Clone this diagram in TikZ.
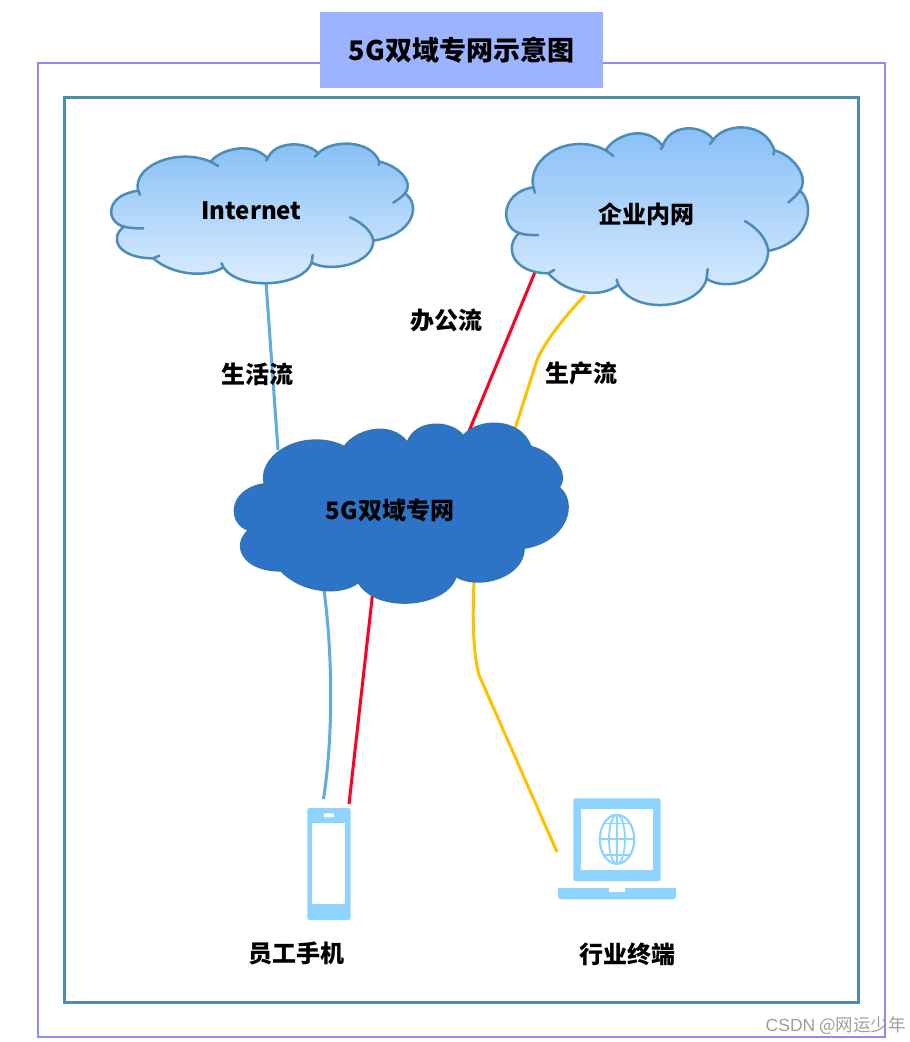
\documentclass[tikz,border=0pt]{standalone}
\usepackage{fontspec}
\setmainfont{Noto Sans CJK SC}
\newfontfamily\markfont{Liberation Sans}
\definecolor{outerframe}{HTML}{8C8CF4}
\definecolor{innerframe}{HTML}{4F8DB0}
\definecolor{titlefill}{HTML}{9CB4FF}
\definecolor{cloudline}{HTML}{4C8CB8}
\definecolor{cloudtop}{HTML}{85BEF6}
\definecolor{cloudbottom}{HTML}{E0EFFF}
\definecolor{netfill}{HTML}{2E74C6}
\definecolor{netline}{HTML}{3074B4}
\definecolor{iconblue}{HTML}{8DD5FF}
\definecolor{lifeflow}{HTML}{5DADE2}
\definecolor{officeflow}{HTML}{FF0020}
\definecolor{workflow}{HTML}{FFC000}
\newcommand{\cloudoutline}{(145,242) .. controls (130,190) and (200,140) .. (285,140)
  .. controls (320,140) and (345,148) .. (362,155)
  .. controls (390,118) and (485,92) .. (533,145)
  .. controls (555,92) and (650,92) .. (685,130)
  .. controls (720,90) and (840,85) .. (868,155)
  .. controls (920,165) and (975,215) .. (945,250)
  .. controls (995,285) and (970,375) .. (850,392)
  .. controls (850,460) and (725,490) .. (665,458)
  .. controls (640,530) and (450,545) .. (400,472)
  .. controls (350,505) and (245,495) .. (190,445)
  .. controls (85,445) and (55,385) .. (102,350)
  .. controls (45,335) and (45,255) .. (145,242) -- cycle}
\newcommand{\cloudfolds}{(145,242) -- (150,255) (362,155) -- (385,168) (533,145) -- (528,152)
  (685,130) -- (675,140) (868,155) -- (866,165) (945,250) .. controls (935,262) and (922,270) .. (910,278)
  (850,392) .. controls (845,360) and (810,335) .. (780,322) (665,458) -- (668,435)
  (400,472) -- (395,460) (190,445) -- (208,437) (102,350) .. controls (120,355) and (140,355) .. (160,355)}
\tikzset{
  textlabel/.style={font=\fontsize{24}{24}\selectfont\bfseries, text=black, inner sep=0pt},
  flowline/.style={line width=3pt, line join=round},
  lightcloud/.style={draw=cloudline, line width=2.5pt, top color=cloudtop, bottom color=cloudbottom},
  iconpart/.style={fill=iconblue, draw=none}
}
\begin{document}
\begin{tikzpicture}[x=1pt, y=-1pt]
	\useasboundingbox (0,0) rectangle (910,1042);
	\fill[white] (0,0) rectangle (910,1042);
	% 外框与内框
	\draw[outerframe, line width=1.6pt] (38,63) rectangle (885,1037);
	\draw[innerframe, line width=3pt] (64,97) rectangle (858,1002);
	% 标题
	\node[textlabel, font=\fontsize{27}{27}\selectfont\bfseries, fill=titlefill, minimum width=283pt, minimum height=76pt] (title) at (461.5,50) {5G双域专网示意图};
	
	% 连接点
	\coordinate (inetout) at (266,282);
	\coordinate (lifeup) at (278,450);
	\coordinate (corpred) at (535,272);
	\coordinate (officeup) at (467,436);
	\coordinate (corpyellow) at (585,295);
	\coordinate (workup) at (514,432);
	\coordinate (lifedown) at (324,590);
	\coordinate (phoneblue) at (323.5,799);
	\coordinate (officedown) at (373,590);
	\coordinate (phonered) at (349,804);
	\coordinate (workdown) at (474,580);
	\coordinate (laptopin) at (557,852);
	
	% 流量连线
	\draw[flowline, lifeflow] (inetout) -- (lifeup);
	\draw[flowline, officeflow] (corpred) -- (officeup);
	\draw[flowline, workflow] (corpyellow) .. controls (560,322) and (545,342) .. (537,360) -- (workup);
	\draw[flowline, lifeflow] (lifedown) .. controls (332,650) and (334,730) .. (phoneblue);
	\draw[flowline, officeflow] (officedown) -- (phonered);
	\draw[flowline, workflow] (workdown) .. controls (472,630) and (474,655) .. (479,675) -- (laptopin);
	
	% Internet 云
	\begin{scope}[shift={(90,110)}, xscale=0.3333, yscale=0.3333]
		\draw[lightcloud] \cloudoutline;
		\draw[cloudline, line width=2.5pt, line cap=round] \cloudfolds;
	\end{scope}
	\node[textlabel] (inet) at (251.5,211) {Internet};
	
	% 企业内网云
	\begin{scope}[shift={(485,84.6)}, xscale=0.3333, yscale=0.424]
		\draw[lightcloud] \cloudoutline;
		\draw[cloudline, line width=2.5pt, line cap=round] \cloudfolds;
	\end{scope}
	\node[textlabel] (corp) at (646,214) {企业内网};
	
	% 5G 专网云
	\begin{scope}[shift={(211,380)}, xscale=0.3684, yscale=0.429]
		\draw[netline, line width=1.5pt, fill=netfill] \cloudoutline;
		\draw[netline, line width=1.5pt, line cap=round] \cloudfolds;
	\end{scope}
	\node[textlabel] (net) at (390,510) {5G双域专网};
	
	% 流量名称
	\node[textlabel] (lifelabel) at (257,374) {生活流};
	\node[textlabel] (officelabel) at (446.5,320) {办公流};
	\node[textlabel] (worklabel) at (581,373) {生产流};
	
	% 员工手机
	\fill[iconpart, rounded corners=1.5pt] (307.3,808) rectangle (350.7,920);
	\fill[white] (312.3,823.3) rectangle (345.3,904.3);
	\fill[white, rounded corners=1pt] (324,813.3) rectangle (334,817.3);
	\node[textlabel] (phone) at (296,953) {员工手机};
	
	% 行业终端
	\fill[iconpart, rounded corners=2pt] (573.3,798.3) -- (660.7,798.3) -- (660.7,881) -- (573.3,881) -- cycle;
	\fill[white] (581.3,809.3) rectangle (652.7,870);
	\draw[iconblue, line width=2.2pt] (617,839.3) ellipse [x radius=17.2, y radius=24.5];
	\draw[iconblue, line width=1.8pt] (617,839.3) ellipse [x radius=8, y radius=24.5];
	\draw[iconblue, line width=1.8pt] (617,815) -- (617,864) (600,839.3) -- (634,839.3) (603.5,823.5) -- (630.5,823.5) (603.5,855) -- (630.5,855);
	\fill[iconpart, rounded corners=3pt] (558,888) -- (676,888) -- (676,899.3) -- (558,899.3) -- cycle;
	\fill[iconpart] (558,888) rectangle (676,892);
	\fill[white] (609.3,887.5) rectangle (625,891.5);
	\node[textlabel] (terminal) at (627,954) {行业终端};
	
	% 水印
	\node[text=black!38, inner sep=0pt, font=\fontsize{17.5}{17.5}\selectfont, anchor=east] (mark) at (906,1026) {{\markfont CSDN} @网运少年};
\end{tikzpicture}
\end{document}
